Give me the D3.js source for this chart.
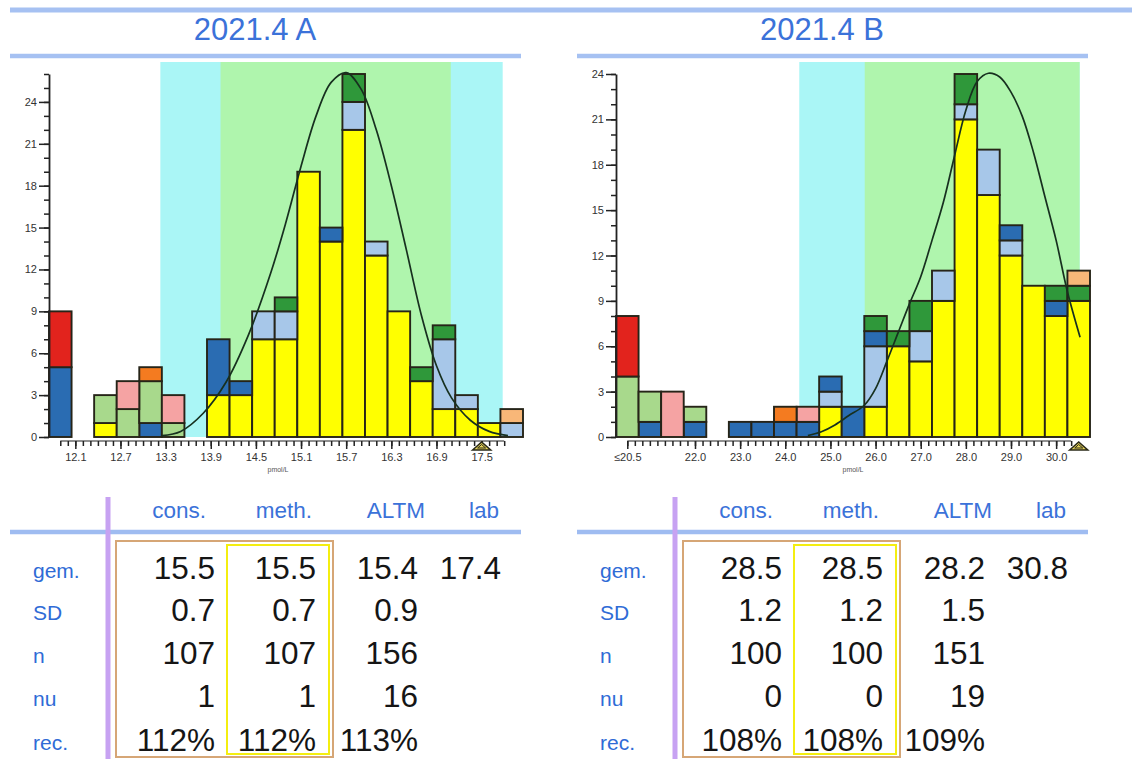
<!DOCTYPE html>
<html><head><meta charset="utf-8">
<script src="https://cdn.jsdelivr.net/npm/d3@7"></script>
<style>
body{margin:0;background:#fff;}
svg{display:block;font-family:'Liberation Sans',Arial,Helvetica,sans-serif;}
</style>
</head><body>
<svg id="c" width="1132" height="759"></svg>
<script>
// ---------------- DATA ----------------
const titles = ["2021.4 A", "2021.4 B"];
const seriesKeys = ["meth","lblue","blue","dgreen","lgreen","pink","red","orange","lorange"];

// Panel A: bin centres (pmol/L), bin width 0.3, first bin is the "≤" bin
const binWidthA = 0.3;
const binsA = [11.9,12.2,12.5,12.8,13.1,13.4,13.7,14.0,14.3,14.6,14.9,15.2,15.5,15.8,16.1,16.4,16.7,17.0,17.3,17.6,17.9];
const methA   = [0,0,1,0,0,0,0,3,3,7,7,19,14,22,13,9,4,2,2,1,0];
const lblueA  = [0,0,0,0,0,0,0,0,0,2,2,0,0,2,1,0,0,5,1,0,1];
const blueA   = [5,0,0,0,1,0,0,4,1,0,0,0,1,0,0,0,0,0,0,0,0];
const dgreenA = [0,0,0,0,0,0,0,0,0,0,1,0,0,2,0,0,1,1,0,0,0];
const lgreenA = [0,0,2,2,3,1,0,0,0,0,0,0,0,0,0,0,0,0,0,0,0];
const pinkA   = [0,0,0,2,0,2,0,0,0,0,0,0,0,0,0,0,0,0,0,0,0];
const redA    = [4,0,0,0,0,0,0,0,0,0,0,0,0,0,0,0,0,0,0,0,0];
const orangeA = [0,0,0,0,1,0,0,0,0,0,0,0,0,0,0,0,0,0,0,0,0];
const lorangeA= [0,0,0,0,0,0,0,0,0,0,0,0,0,0,0,0,0,0,0,0,1];
const xTickValsA = [12.1,12.7,13.3,13.9,14.5,15.1,15.7,16.3,16.9,17.5];
const xTickLabelsA = ["12.1","12.7","13.3","13.9","14.5","15.1","15.7","16.3","16.9","17.5"];
const yTicksA = [0,3,6,9,12,15,18,21,24];
const bandOuterA = [13.23, 17.78];
const bandInnerA = [14.03, 17.09];
const labMarkA = 17.5;
const curveA = [[13.25,0.1],[13.5,0.4],[13.8,1.7],[14.1,3.9],[14.4,7.3],[14.7,11.8],[14.9,15.4],[15.1,19.4],[15.3,23.0],[15.5,25.4],[15.7,26.1],[15.9,24.9],[16.1,22.0],[16.3,18.0],[16.5,13.4],[16.7,8.7],[16.9,5.1],[17.1,2.8],[17.35,1.2],[17.6,0.4],[17.85,0.1]];

// Panel B: bin centres, bin width 0.5
const binWidthB = 0.5;
const binsB = [20.5,21.0,21.5,22.0,22.5,23.0,23.5,24.0,24.5,25.0,25.5,26.0,26.5,27.0,27.5,28.0,28.5,29.0,29.5,30.0,30.5];
const methB   = [0,0,0,0,0,0,0,0,0,2,0,2,6,5,9,21,16,12,10,8,9];
const lblueB  = [0,0,0,0,0,0,0,0,0,1,0,4,0,2,2,1,3,1,0,0,0];
const blueB   = [0,1,0,1,0,1,1,1,1,1,2,1,0,0,0,0,0,1,0,1,0];
const dgreenB = [0,0,0,0,0,0,0,0,0,0,0,1,1,2,0,2,0,0,0,1,1];
const lgreenB = [4,2,0,1,0,0,0,0,0,0,0,0,0,0,0,0,0,0,0,0,0];
const pinkB   = [0,0,3,0,0,0,0,0,1,0,0,0,0,0,0,0,0,0,0,0,0];
const redB    = [4,0,0,0,0,0,0,0,0,0,0,0,0,0,0,0,0,0,0,0,0];
const orangeB = [0,0,0,0,0,0,0,1,0,0,0,0,0,0,0,0,0,0,0,0,0];
const lorangeB= [0,0,0,0,0,0,0,0,0,0,0,0,0,0,0,0,0,0,0,0,1];
const xTickValsB = [20.5,22.0,23.0,24.0,25.0,26.0,27.0,28.0,29.0,30.0];
const xTickLabelsB = ["≤20.5","22.0","23.0","24.0","25.0","26.0","27.0","28.0","29.0","30.0"];
const yTicksB = [0,3,6,9,12,15,18,21,24];
const bandOuterB = [24.31, 30.52];
const bandInnerB = [25.76, 30.52];
const labMarkB = 30.5;
const curveB = [[24.5,0.1],[24.8,0.35],[25.1,0.8],[25.4,1.4],[25.75,2.1],[26.0,3.2],[26.25,5.0],[26.5,6.9],[26.75,8.8],[27.0,10.6],[27.25,13.0],[27.5,15.5],[27.75,18.6],[28.0,21.6],[28.25,23.5],[28.5,24.05],[28.75,23.8],[29.0,22.8],[29.25,21.2],[29.5,18.8],[29.75,15.9],[30.0,13.0],[30.25,9.6],[30.53,6.6]];

// Tables
const rowLabels = ["gem.","SD","n","nu","rec."];
const colLabels = ["cons.","meth.","ALTM","lab"];
const consA = ["15.5","0.7","107","1","112%"];
const methStatA = ["15.5","0.7","107","1","112%"];
const altmA = ["15.4","0.9","156","16","113%"];
const labA  = ["17.4","","","",""];
const consB = ["28.5","1.2","100","0","108%"];
const methStatB = ["28.5","1.2","100","0","108%"];
const altmB = ["28.2","1.5","151","19","109%"];
const labB  = ["30.8","","","",""];

// ---------------- STYLE ----------------
const seriesColors = {meth:"#ffff00", lblue:"#a7c7e9", blue:"#2a6cb2", dgreen:"#2f983a", lgreen:"#a8d98c", pink:"#f5a3a3", red:"#e2231d", orange:"#f47b20", lorange:"#f8b778"};
const lineBlue = "#a6c1f2", titleBlue = "#3b72d9", labelBlue = "#2f6bd6";

const svg = d3.select("#c");

// top rule
svg.append("line").attr("x1",10).attr("x2",1132).attr("y1",10).attr("y2",10)
  .attr("stroke",lineBlue).attr("stroke-width",5);

function panel(p) {
  const g = svg.append("g").attr("transform", `translate(${p.dx},0)`);
  // title
  g.append("text").attr("x",255).attr("y",40).attr("text-anchor","middle")
    .attr("font-size",31).attr("fill",titleBlue).text(p.title);
  g.append("line").attr("x1",10).attr("x2",521).attr("y1",56).attr("y2",56)
    .attr("stroke",lineBlue).attr("stroke-width",4.5);

  const x = d3.scaleLinear().domain([p.bins[0]-p.bw/2, p.bins[p.bins.length-1]+p.bw/2]).range([49,523]);
  const y = d3.scaleLinear().domain([0,p.yMax]).range([437,74]);

  // bands
  g.append("rect").attr("x",x(p.bandOuter[0])).attr("width",x(p.bandOuter[1])-x(p.bandOuter[0]))
    .attr("y",62).attr("height",437-62).attr("fill","#aaf6f6");
  g.append("rect").attr("x",x(p.bandInner[0])).attr("width",x(p.bandInner[1])-x(p.bandInner[0]))
    .attr("y",62).attr("height",437-62).attr("fill","#aff5ad");

  // stacked bars
  const rows = p.bins.map((b,i)=>{const r={bin:b}; seriesKeys.forEach(k=>r[k]=p.series[k][i]); return r;});
  const stack = d3.stack().keys(seriesKeys)(rows);
  stack.forEach(layer=>{
    g.append("g").selectAll("rect").data(layer.filter(d=>d[1]-d[0]>0)).join("rect")
      .attr("x",d=>x(d.data.bin-p.bw/2)).attr("width",d=>x(d.data.bin+p.bw/2)-x(d.data.bin-p.bw/2))
      .attr("y",d=>y(d[1])).attr("height",d=>y(d[0])-y(d[1]))
      .attr("fill",seriesColors[layer.key]).attr("stroke","#262418").attr("stroke-width",1.9);
  });

  // curve
  g.append("path").datum(p.curve)
    .attr("d", d3.line().x(d=>x(d[0])).y(d=>y(d[1])).curve(d3.curveCatmullRom))
    .attr("fill","none").attr("stroke","#17301f").attr("stroke-width",1.7);

  // y axis
  const yMinor = g.append("g").attr("transform","translate(49,0)")
    .call(d3.axisLeft(y).tickValues(d3.range(0,p.yMax+1)).tickSize(5).tickFormat(""));
  yMinor.select(".domain").remove();
  const yMaj = g.append("g").attr("transform","translate(49,0)")
    .call(d3.axisLeft(y).tickValues(p.yTicks).tickSize(10).tickSizeOuter(0).tickPadding(2));
  [yMinor,yMaj].forEach(a=>a.selectAll("line").attr("stroke","#222").attr("stroke-width",1.5));
  yMaj.select(".domain").attr("stroke","#222").attr("stroke-width",1.8);
  yMaj.selectAll("text").attr("font-size",11).attr("fill","#333").attr("font-family","'Liberation Sans',Arial,sans-serif");

  // x axis
  const xMinor = g.append("g").attr("transform","translate(0,441)")
    .call(d3.axisBottom(x).tickValues(p.minorTicks).tickSize(5).tickFormat(""));
  xMinor.select(".domain").remove();
  const xMaj = g.append("g").attr("transform","translate(0,441)")
    .call(d3.axisBottom(x).tickValues(p.xTickVals).tickSize(8).tickPadding(4)
      .tickFormat((d,i)=>p.xTickLabels[i]));
  xMaj.select(".domain").remove();
  [xMinor,xMaj].forEach(a=>a.selectAll("line").attr("stroke","#222").attr("stroke-width",1.5));
  xMaj.selectAll("text").attr("font-size",11).attr("fill","#333").attr("font-family","'Liberation Sans',Arial,sans-serif");
  g.append("line").attr("x1",x(p.minorTicks[0])).attr("x2",x(p.minorTicks[p.minorTicks.length-1]))
    .attr("y1",441).attr("y2",441).attr("stroke","#222").attr("stroke-width",1.2);
  g.append("text").attr("x",p.unitX).attr("y",472).attr("text-anchor","middle")
    .attr("font-size",7).attr("fill","#555").text("pmol/L");

  // lab marker triangle
  const tx = x(p.labMark);
  g.append("path").attr("d",`M${tx-9},450 L${tx},442 L${tx+9},450 Z`)
    .attr("fill","#e6d35a").attr("stroke","#2a2a18").attr("stroke-width",1.6);
  g.append("path").attr("d",`M${tx-4},448 L${tx},444.5 L${tx+4},448 Z`)
    .attr("fill","none").attr("stroke","#2a2a18").attr("stroke-width",1);

  // table
  g.append("line").attr("x1",10).attr("x2",521).attr("y1",532).attr("y2",532)
    .attr("stroke","#9fbcf1").attr("stroke-width",4.5);
  g.append("line").attr("x1",108).attr("x2",108).attr("y1",497).attr("y2",759)
    .attr("stroke","#c7a2f2").attr("stroke-width",5);
  g.append("rect").attr("x",116).attr("y",541).attr("width",217).attr("height",216)
    .attr("fill","none").attr("stroke","#d6a676").attr("stroke-width",2);
  g.append("rect").attr("x",227).attr("y",545).attr("width",102).attr("height",209)
    .attr("fill","none").attr("stroke","#f4ee10").attr("stroke-width",2);

  const headerRight = [206,312,425,499];
  const valueRight = [215,316,418,501];
  const rowBase = [579,621,664,707,751];
  colLabels.forEach((c,i)=>g.append("text").attr("x",headerRight[i]).attr("y",518)
    .attr("text-anchor","end").attr("font-size",22.5).attr("fill",titleBlue).text(c));
  rowLabels.forEach((r,i)=>g.append("text").attr("x",33).attr("y",rowBase[i]-1)
    .attr("font-size",21).attr("fill",labelBlue).text(r));
  p.cols.forEach((col,ci)=>col.forEach((v,ri)=>{
    if (v) g.append("text").attr("x",valueRight[ci]).attr("y",rowBase[ri])
      .attr("text-anchor","end").attr("font-size",31.5).attr("fill","#151515").text(v);
  }));
}

panel({dx:0, title:titles[0], bins:binsA, bw:binWidthA, yMax:26, yTicks:yTicksA,
  series:{meth:methA,lblue:lblueA,blue:blueA,dgreen:dgreenA,lgreen:lgreenA,pink:pinkA,red:redA,orange:orangeA,lorange:lorangeA},
  bandOuter:bandOuterA, bandInner:bandInnerA, curve:curveA, labMark:labMarkA,
  xTickVals:xTickValsA, xTickLabels:xTickLabelsA,
  minorTicks:d3.range(0,60).map(i=>+(11.9+i*0.1).toFixed(2)), unitX:278,
  cols:[consA,methStatA,altmA,labA]});

panel({dx:567, title:titles[1], bins:binsB, bw:binWidthB, yMax:24, yTicks:yTicksB,
  series:{meth:methB,lblue:lblueB,blue:blueB,dgreen:dgreenB,lgreen:lgreenB,pink:pinkB,red:redB,orange:orangeB,lorange:lorangeB},
  bandOuter:bandOuterB, bandInner:bandInnerB, curve:curveB, labMark:labMarkB,
  xTickVals:xTickValsB, xTickLabels:xTickLabelsB,
  minorTicks:d3.range(0,60).map(i=>+(20.5+i/6).toFixed(3)), unitX:286,
  cols:[consB,methStatB,altmB,labB]});
</script>
</body></html>
